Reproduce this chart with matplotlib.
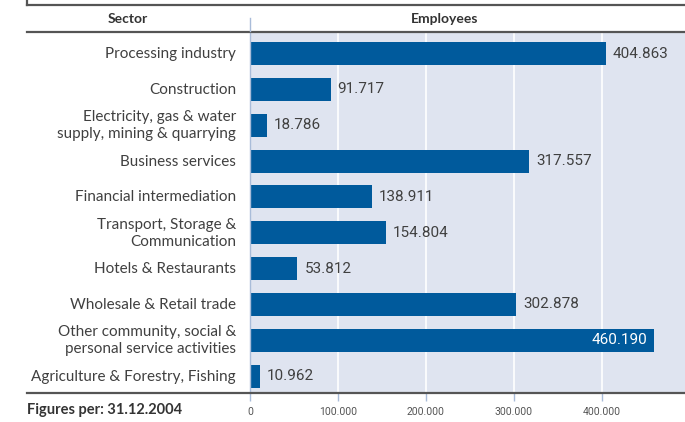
import matplotlib
matplotlib.use("Agg")
import matplotlib.pyplot as plt
from matplotlib.lines import Line2D

sectors = [
    "Processing industry",
    "Construction",
    "Electricity, gas & water\nsupply, mining & quarrying",
    "Business services",
    "Financial intermediation",
    "Transport, Storage &\nCommunication",
    "Hotels & Restaurants",
    "Wholesale & Retail trade",
    "Other community, social &\npersonal service activities",
    "Agriculture & Forestry, Fishing",
]
employees = [404863, 91717, 18786, 317557, 138911, 154804, 53812, 302878, 460190, 10962]
value_labels = ["404.863", "91.717", "18.786", "317.557", "138.911",
                "154.804", "53.812", "302.878", "460.190", "10.962"]
xticks = [0, 100000, 200000, 300000, 400000]
xtick_labels = ["0", "100.000", "200.000", "300.000", "400.000"]

W, H = 685, 422
fig = plt.figure(figsize=(W / 100, H / 100), dpi=100)

def fx(px):
    return px / W

def fy(py):
    return 1 - py / H

bar_color = "#005a9c"
bg = "#dfe4f0"
dark = "#555555"
text_c = "#404040"
light_blue = "#a9bcd9"

ax = fig.add_axes([fx(250), fy(393), 1 - fx(250), fy(32) - fy(393)])
ax.set_facecolor(bg)
ax.set_xlim(0, 495000)
ax.set_ylim(9.47, -0.60)
for s in ax.spines.values():
    s.set_visible(False)
ax.spines["left"].set_visible(True)
ax.spines["left"].set_color(light_blue)
ax.spines["left"].set_linewidth(1)

ax.set_axisbelow(True)
for t in xticks[1:]:
    ax.axvline(t, color="white", lw=1.2, zorder=0)

ypos = list(range(len(sectors)))
ax.barh(ypos, employees, height=0.64, color=bar_color, zorder=2)

for y, v, lab in zip(ypos, employees, value_labels):
    if v > 440000:
        ax.text(v - 8000, y, lab, ha="right", va="center", color="white",
                fontsize=11, family="Roboto", zorder=3)
    else:
        ax.text(v + 8000, y, lab, ha="left", va="center", color=text_c,
                fontsize=11, family="Roboto", zorder=3)

ax.set_yticks([])
ax.set_xticks(xticks)
ax.set_xticklabels(xtick_labels, fontsize=7.5, color="#555555", family="Roboto")
ax.tick_params(axis="x", length=6, color=light_blue, width=1, pad=4)

row0, step = 53.5, (376 - 53.5) / 9
for i, lab in enumerate(sectors):
    fig.text(fx(236), fy(row0 + i * step + 0.5), lab, ha="right", va="center",
             fontsize=11, color=text_c, family="Lato", linespacing=1.3)

# frame lines
fig.add_artist(Line2D([fx(27), 1], [fy(4.5), fy(4.5)], color=dark, lw=1.6))
fig.add_artist(Line2D([fx(27), fx(27)], [fy(4.5), 1], color=dark, lw=1.6))
fig.add_artist(Line2D([fx(27), 1], [fy(31.5), fy(31.5)], color=dark, lw=1.6))
fig.add_artist(Line2D([fx(27), 1], [fy(393), fy(393)], color=dark, lw=1.6))
fig.add_artist(Line2D([fx(250), fx(250)], [fy(18), fy(31)], color=light_blue, lw=1))

fig.text(fx(128), fy(19), "Sector", ha="center", va="center", fontsize=10,
         fontweight="bold", color="#333333", family="Lato")
fig.text(fx(445), fy(19), "Employees", ha="center", va="center", fontsize=10,
         fontweight="bold", color="#333333", family="Lato")
fig.text(fx(27), fy(410), "Figures per: 31.12.2004", ha="left", va="center",
         fontsize=10.5, fontweight="bold", color="#333333", family="Lato")

fig.savefig("out.png", dpi=100)
